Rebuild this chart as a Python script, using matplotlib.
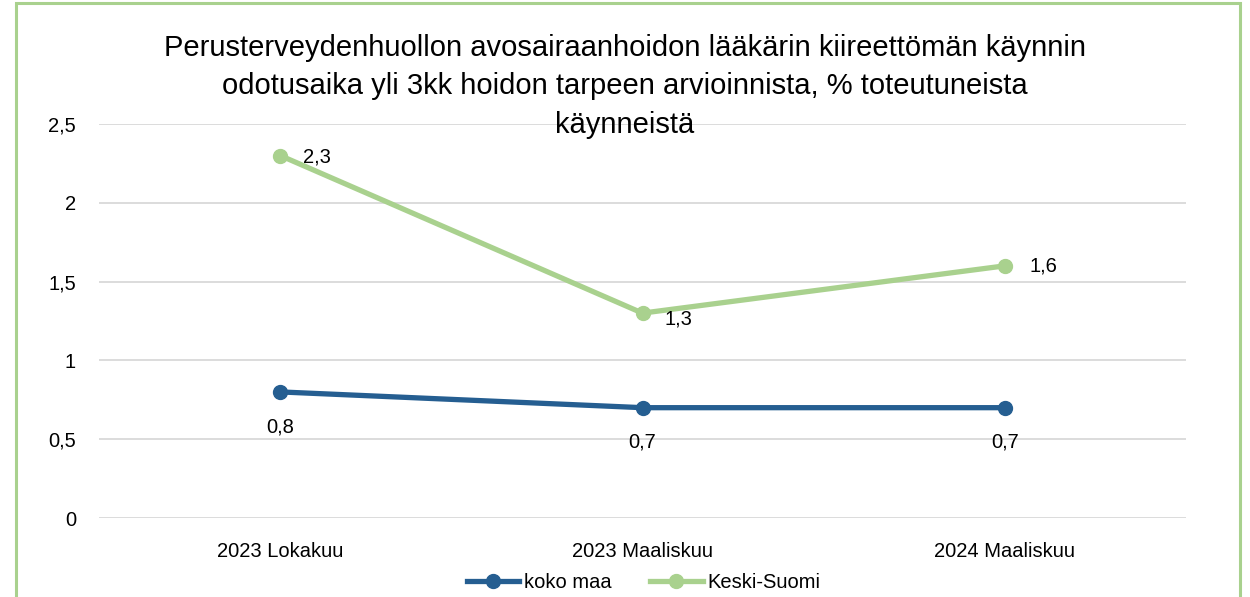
import matplotlib.pyplot as plt
from matplotlib.patches import Rectangle

plt.rcParams['font.family'] = ['Liberation Sans', 'DejaVu Sans']

# Data
categories = ["2023 Lokakuu", "2023 Maaliskuu", "2024 Maaliskuu"]
koko_maa = [0.8, 0.7, 0.7]
keski_suomi = [2.3, 1.3, 1.6]
yticks = [0, 0.5, 1, 1.5, 2, 2.5]

title = ("Perusterveydenhuollon avosairaanhoidon lääkärin kiireettömän käynnin\n"
         "odotusaika yli 3kk hoidon tarpeen arvioinnista, % toteutuneista\n"
         "käynneistä")

blue = "#255E91"
green = "#A9D18E"
fs = 14.5

def fi(v):
    return ("%g" % v).replace(".", ",")

fig = plt.figure(figsize=(12.5, 5.97), dpi=100)
ax = fig.add_axes([99 / 1250, 1 - 518 / 597, 1087 / 1250, 394 / 597])

x = list(range(len(categories)))
ax.plot(x, koko_maa, color=blue, lw=3.8, marker='o', ms=10, label="koko maa", zorder=3)
ax.plot(x, keski_suomi, color=green, lw=3.8, marker='o', ms=10, label="Keski-Suomi", zorder=3)

# data labels
for xi, v in zip(x, koko_maa):
    ax.annotate(fi(v), (xi, v), xytext=(0, -25), textcoords='offset points',
                ha='center', va='center', fontsize=fs)
green_offsets = [(16.5, -1), (16, -4), (18, 0)]
for xi, v, off in zip(x, keski_suomi, green_offsets):
    ax.annotate(fi(v), (xi, v), xytext=off, textcoords='offset points',
                ha='left', va='center', fontsize=fs)

ax.set_xlim(-0.5, 2.5)
ax.set_ylim(0, 2.5)
ax.set_yticks(yticks)
ax.set_yticklabels([fi(t) for t in yticks], fontsize=fs)
ax.set_xticks(x)
ax.set_xticklabels(categories, fontsize=fs)
ax.tick_params(axis='y', length=0, pad=16.5)
ax.tick_params(axis='x', length=0, pad=17)
ax.grid(axis='y', color='#D9D9D9', lw=1.3)
ax.set_axisbelow(True)
for s in ax.spines.values():
    s.set_visible(False)

fig.text(0.5, 1 - 86.5 / 597, title, ha='center', va='center', fontsize=21,
         linespacing=1.5)

fig.legend(loc='center', bbox_to_anchor=(0.515, 1 - 583 / 597), ncol=2,
           frameon=False, fontsize=fs, handlelength=2.6, columnspacing=1.9,
           handletextpad=0.25)

# outer border
fig.patches.append(Rectangle((16 / 1250, -0.01), 1224 / 1250, 1 - 3 / 597 + 0.01,
                             transform=fig.transFigure, fill=False,
                             edgecolor=green, lw=2.2))

fig.savefig("out.png", dpi=100)
